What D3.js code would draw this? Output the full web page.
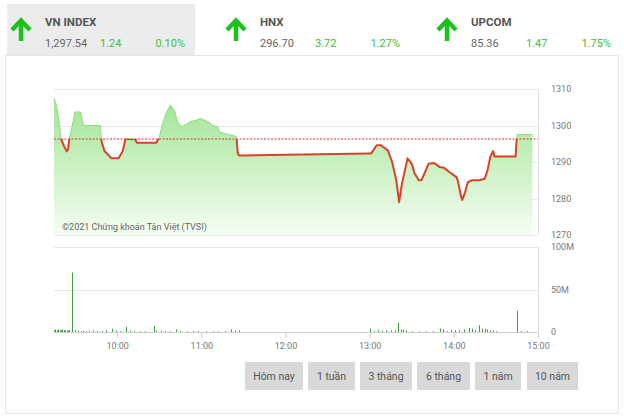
<!DOCTYPE html>
<html>
<head>
  <meta charset="utf-8">
  <title>VN INDEX intraday</title>
  <script src="https://d3js.org/d3.v7.min.js"></script>
  <style>
    body, html {
      margin: 0;
      padding: 0;
      background: #fff;
      overflow: hidden;
    }
    svg {
      display: block;
      font-family: Roboto, "Open Sans", sans-serif;
    }
  </style>
</head>
<body>
  <svg id="chart" width="624" height="420"></svg>

  <script>
    // index boxes on top
    var indexNames = ["VN INDEX", "HNX", "UPCOM"];
    var indexValues = ["1,297.54", "296.70", "85.36"];
    var indexChanges = ["1.24", "3.72", "1.47"];
    var indexPercents = ["0.10%", "1.27%", "1.75%"];

    // intraday price (VN INDEX)
    var refPrice = 1296.30;
    var priceTimes = ["09:15","09:17","09:19","09:20","09:22","09:24","09:25","09:26","09:28","09:30","09:34","09:36","09:38",
      "09:48","09:49","09:51","09:54","09:56",
      "10:01","10:04","10:06","10:09","10:13","10:14","10:28","10:30","10:32","10:35","10:38","10:41","10:43","10:46","10:52",
      "11:00","11:05","11:08","11:12","11:13","11:17","11:22","11:25","11:26","11:27","11:30",
      "13:00","13:01","13:05","13:08","13:13","13:16","13:19","13:21","13:23","13:27","13:30","13:32","13:35","13:37","13:40","13:42","13:46","13:50","13:53","13:57",
      "14:02","14:03","14:05","14:06","14:08","14:10","14:13","14:18","14:22","14:24","14:26","14:28","14:29","14:44","14:45","14:56"];
    var priceValues = [1307.6,1305,1300,1296.3,1294.5,1292.9,1293.5,1296.5,1300,1303.7,1303.7,1300,1300,
      1300,1295.5,1293,1291.8,1291,
      1291,1293,1296.4,1296.3,1296.2,1295.3,1295.3,1296.8,1300,1303.5,1305.6,1304,1301,1299.6,1301,
      1301.9,1301,1300,1299.5,1298.2,1297.8,1297.3,1297,1292.3,1291.8,1291.8,
      1292.3,1292.3,1294.6,1294.6,1293.2,1290,1285,1279,1284,1291,1289.5,1286.9,1285,1285.1,1287.7,1289.5,1289.7,1288.6,1288.4,1287.2,
      1285.8,1284.5,1280.8,1279.6,1281.7,1284.5,1285,1285,1285.4,1287.7,1291.4,1293,1291.5,1291.5,1297.54,1297.54];

    // volume (millions)
    var volTimes = ["09:15","09:16","09:17","09:18","09:19","09:20","09:21","09:22","09:23","09:24","09:25","09:26","09:28",
      "09:30","09:32","09:34","09:36","09:38","09:40","09:43","09:46","09:49","09:52","09:56","09:59",
      "10:02","10:06","10:09","10:12","10:16","10:20","10:26","10:28","10:31","10:34","10:38","10:42","10:45","10:50","10:54","10:58",
      "11:03","11:08","11:12","11:17","11:21","11:24","11:27",
      "13:00","13:03","13:06","13:09","13:12","13:15","13:18","13:20","13:22","13:24","13:26","13:30","13:35","13:40","13:45","13:50","13:52","13:55","13:58",
      "14:01","14:04","14:07","14:11","14:13","14:15","14:18","14:20","14:22","14:24","14:26","14:28","14:30","14:45","14:48","14:52"];
    var volValues = [2,3,2,3,2,2,3,2,2,1.5,2,2,70,
      2,1.5,1,1.5,1,1,1.5,1,1,2,4,1.5,
      1,6,1.5,1,1,1,7,1.5,1.5,1,1,3,1,1,1,1,
      1,1,1,1,3,2,2,
      4,1,2,1,2,2,2,11,3,3,2,1,1,1,1,4,3,1,2,
      2,2,3,5,4,2,8,4,4,3,2,2,1,25,1,1];

    var priceTicks = [1270, 1280, 1290, 1300, 1310];
    var volTicks = [0, 50, 100];
    var volTickLabels = ["0", "50M", "100M"];
    var timeTicks = ["10:00", "11:00", "12:00", "13:00", "14:00", "15:00"];
    var rangeButtons = ["Hôm nay", "1 tuần", "3 tháng", "6 tháng", "1 năm", "10 năm"];

    var parseTime = d3.timeParse("%H:%M");
    var formatTime = d3.timeFormat("%H:%M");

    var priceData = priceTimes.map(function(t, i) {
      return { time: parseTime(t), value: priceValues[i] };
    });
    var volData = volTimes.map(function(t, i) {
      return { time: parseTime(t), value: volValues[i] };
    });

    var svg = d3.select("#chart");

    // ---- header tabs ----
    svg.append("rect")
      .attr("x", 7).attr("y", 4)
      .attr("width", 188).attr("height", 51)
      .attr("fill", "#ececec");

    // panel border
    svg.append("rect")
      .attr("x", 5.5).attr("y", 55.5)
      .attr("width", 613).attr("height", 358)
      .attr("fill", "none")
      .attr("stroke", "#e6e6e6");

    var tabLeft = [10, 225, 436];

    var tabs = svg.selectAll("g.tab")
      .data(indexNames)
      .join("g")
      .attr("class", "tab")
      .attr("transform", function(d, i) { return "translate(" + tabLeft[i] + ",0)"; });

    tabs.append("path")
      .attr("d", "M11,41 L11,21 M2,30 L11,20.5 L20,30")
      .attr("fill", "none")
      .attr("stroke", "#1cc21c")
      .attr("stroke-width", 4.5);

    tabs.append("text")
      .attr("x", 35).attr("y", 26)
      .style("font-size", "11.5px")
      .style("font-weight", "bold")
      .style("fill", "#555")
      .text(function(d) { return d; });

    tabs.append("text")
      .attr("x", 35).attr("y", 47)
      .style("font-size", "11px")
      .style("fill", "#666")
      .text(function(d, i) { return indexValues[i]; });

    tabs.append("text")
      .attr("x", 90)
      .attr("y", 47)
      .style("font-size", "11px")
      .style("fill", "#3cbf3c")
      .text(function(d, i) { return indexChanges[i]; });

    tabs.append("text")
      .attr("x", 175).attr("y", 47)
      .attr("text-anchor", "end")
      .style("font-size", "11px")
      .style("fill", "#3cbf3c")
      .text(function(d, i) { return indexPercents[i]; });

    // ---- scales ----
    var left = 54, right = 538;
    var xScale = d3.scaleTime()
      .domain([parseTime("09:15"), parseTime("15:00")])
      .range([left, right]);

    var yScale = d3.scaleLinear()
      .domain([1270, 1310])
      .range([235, 89]);

    var yVol = d3.scaleLinear()
      .domain([0, 100])
      .range([332, 247]);

    // gradient for area
    var defs = svg.append("defs");
    var grad = defs.append("linearGradient")
      .attr("id", "areaGrad")
      .attr("gradientUnits", "userSpaceOnUse")
      .attr("x1", 0).attr("x2", 0)
      .attr("y1", yScale(1310)).attr("y2", yScale(1270));
    grad.append("stop").attr("offset", "0%").attr("stop-color", "#98e28a");
    grad.append("stop").attr("offset", "45%").attr("stop-color", "#c4efbb");
    grad.append("stop").attr("offset", "100%").attr("stop-color", "#f6fdf4");

    var refY = yScale(refPrice);
    defs.append("clipPath").attr("id", "belowRef")
      .append("rect")
      .attr("x", left - 2).attr("y", refY)
      .attr("width", right - left + 4).attr("height", yScale(1270) - refY + 2);
    defs.append("clipPath").attr("id", "aboveRef")
      .append("rect")
      .attr("x", left - 2).attr("y", 80)
      .attr("width", right - left + 4).attr("height", refY - 80);

    // price gridlines
    svg.append("g")
      .selectAll("line")
      .data(priceTicks)
      .join("line")
      .attr("x1", left).attr("x2", right)
      .attr("y1", function(d) { return Math.round(yScale(d)) + 0.5; })
      .attr("y2", function(d) { return Math.round(yScale(d)) + 0.5; })
      .attr("stroke", "#e8e8e8");

    // right border of the price plot
    svg.append("line")
      .attr("x1", right + 0.5).attr("x2", right + 0.5)
      .attr("y1", yScale(1310)).attr("y2", yScale(1270))
      .attr("stroke", "#e0e0e0");

    var area = d3.area()
      .x(function(d) { return xScale(d.time); })
      .y0(yScale(1270))
      .y1(function(d) { return yScale(d.value); });

    svg.append("path")
      .datum(priceData)
      .attr("d", area)
      .attr("fill", "url(#areaGrad)");

    // white gap between reference and price when below
    var gapArea = d3.area()
      .x(function(d) { return xScale(d.time); })
      .y0(refY)
      .y1(function(d) { return yScale(d.value); });

    svg.append("path")
      .datum(priceData)
      .attr("d", gapArea)
      .attr("fill", "#fff")
      .attr("clip-path", "url(#belowRef)");

    var line = d3.line()
      .x(function(d) { return xScale(d.time); })
      .y(function(d) { return yScale(d.value); });

    svg.append("path")
      .datum(priceData)
      .attr("d", line)
      .attr("fill", "none")
      .attr("stroke", "#8fdc82")
      .attr("stroke-width", 1)
      .attr("clip-path", "url(#aboveRef)");

    svg.append("path")
      .datum(priceData)
      .attr("d", line)
      .attr("fill", "none")
      .attr("stroke", "#d8412a")
      .attr("stroke-width", 2)
      .attr("stroke-linejoin", "round")
      .attr("clip-path", "url(#belowRef)");

    // reference line
    svg.append("line")
      .attr("x1", left).attr("x2", right)
      .attr("y1", refY).attr("y2", refY)
      .attr("stroke", "#e0332a")
      .attr("stroke-width", 1)
      .attr("stroke-dasharray", "2,1.5");

    // price axis labels
    svg.append("g")
      .selectAll("text")
      .data(priceTicks)
      .join("text")
      .attr("x", 551)
      .attr("y", function(d) { return yScale(d) + 3; })
      .style("font-size", "9px")
      .style("fill", "#777")
      .text(function(d) { return d; });

    svg.append("text")
      .attr("x", 62).attr("y", 230)
      .style("font-size", "9px")
      .style("fill", "#666")
      .text("©2021 Chứng khoán Tân Việt (TVSI)");

    // ---- volume ----
    svg.append("g")
      .selectAll("line")
      .data(volTicks)
      .join("line")
      .attr("x1", left).attr("x2", right)
      .attr("y1", function(d) { return Math.round(yVol(d)) + 0.5; })
      .attr("y2", function(d) { return Math.round(yVol(d)) + 0.5; })
      .attr("stroke", function(d) { return d === 0 ? "#cfcfcf" : "#e8e8e8"; });

    svg.append("line")
      .attr("x1", right + 0.5).attr("x2", right + 0.5)
      .attr("y1", yVol(100)).attr("y2", yVol(0))
      .attr("stroke", "#e0e0e0");

    svg.append("g")
      .selectAll("line")
      .data(volData)
      .join("line")
      .attr("x1", function(d) { return Math.round(xScale(d.time)) + 0.5; })
      .attr("x2", function(d) { return Math.round(xScale(d.time)) + 0.5; })
      .attr("y1", yVol(0))
      .attr("y2", function(d) { return yVol(d.value); })
      .attr("stroke", "#3f9e3f")
      .attr("stroke-width", 1);

    svg.append("g")
      .selectAll("text")
      .data(volTicks)
      .join("text")
      .attr("x", 551)
      .attr("y", function(d) { return yVol(d) + 3; })
      .style("font-size", "9px")
      .style("fill", "#777")
      .text(function(d, i) { return volTickLabels[i]; });

    // time axis
    var xAxis = d3.axisBottom(xScale)
      .tickValues(timeTicks.map(parseTime))
      .tickFormat(formatTime)
      .tickSize(5);

    var gx = svg.append("g")
      .attr("transform", "translate(0," + (yVol(0) + 0.5) + ")")
      .call(xAxis);
    gx.select(".domain").remove();
    gx.selectAll(".tick line").attr("stroke", "#ccc");
    gx.selectAll(".tick text")
      .attr("dy", "0.9em")
      .style("font-size", "9px")
      .style("fill", "#777")
      .style("font-family", "Roboto, sans-serif");

    // ---- range buttons ----
    var btnX = [245, 308, 360, 417, 475, 527];
    var btnW = [58, 47, 52, 53, 46, 51];

    var btns = svg.selectAll("g.btn")
      .data(rangeButtons)
      .join("g")
      .attr("class", "btn");

    btns.append("rect")
      .attr("x", function(d, i) { return btnX[i]; })
      .attr("y", 362)
      .attr("width", function(d, i) { return btnW[i]; })
      .attr("height", 28)
      .attr("fill", "#d9d9d9");

    btns.append("text")
      .attr("x", function(d, i) { return btnX[i] + btnW[i] / 2; })
      .attr("y", 380)
      .attr("text-anchor", "middle")
      .style("font-size", "10.5px")
      .style("fill", "#555")
      .text(function(d) { return d; });
  </script>
</body>
</html>
